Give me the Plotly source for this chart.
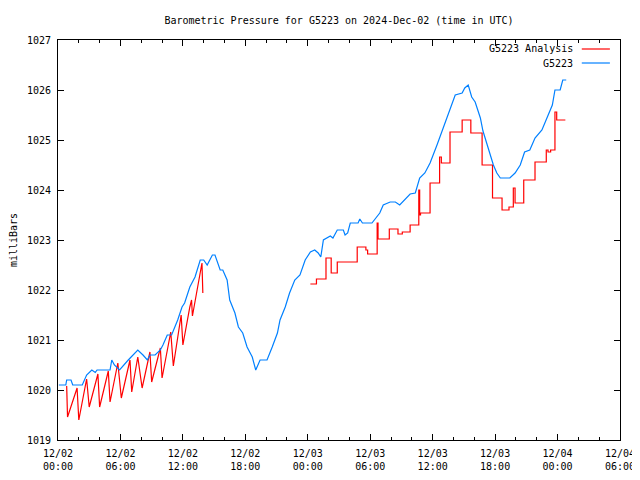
import plotly.graph_objects as go

# ---------------- data ----------------
blue_times = [
    "2024-12-02 00:05", "2024-12-02 00:45", "2024-12-02 00:50", "2024-12-02 01:15", "2024-12-02 01:25",
    "2024-12-02 02:20", "2024-12-02 02:45", "2024-12-02 03:15", "2024-12-02 03:35", "2024-12-02 03:45",
    "2024-12-02 05:00", "2024-12-02 05:10", "2024-12-02 05:25", "2024-12-02 05:55", "2024-12-02 06:45",
    "2024-12-02 07:10", "2024-12-02 07:40", "2024-12-02 08:10", "2024-12-02 08:35", "2024-12-02 08:50",
    "2024-12-02 09:20", "2024-12-02 09:50", "2024-12-02 10:05", "2024-12-02 10:30", "2024-12-02 10:55",
    "2024-12-02 11:30", "2024-12-02 11:55", "2024-12-02 12:10", "2024-12-02 12:40", "2024-12-02 13:10",
    "2024-12-02 13:40", "2024-12-02 14:00", "2024-12-02 14:20", "2024-12-02 14:50", "2024-12-02 15:05",
    "2024-12-02 15:35", "2024-12-02 15:50", "2024-12-02 16:15", "2024-12-02 16:30", "2024-12-02 17:00",
    "2024-12-02 17:20", "2024-12-02 17:45", "2024-12-02 18:10", "2024-12-02 18:40", "2024-12-02 19:00",
    "2024-12-02 19:25", "2024-12-02 20:05", "2024-12-02 20:35", "2024-12-02 21:05", "2024-12-02 21:20",
    "2024-12-02 21:50", "2024-12-02 22:15", "2024-12-02 22:45", "2024-12-02 23:15", "2024-12-02 23:45",
    "2024-12-03 00:15", "2024-12-03 00:40", "2024-12-03 01:00", "2024-12-03 01:15", "2024-12-03 01:30",
    "2024-12-03 02:10", "2024-12-03 02:25", "2024-12-03 02:50", "2024-12-03 03:25", "2024-12-03 03:35",
    "2024-12-03 03:50", "2024-12-03 04:05", "2024-12-03 04:50", "2024-12-03 05:00", "2024-12-03 05:15",
    "2024-12-03 06:10", "2024-12-03 06:55", "2024-12-03 07:15", "2024-12-03 07:55", "2024-12-03 08:25",
    "2024-12-03 08:50", "2024-12-03 09:30", "2024-12-03 09:50", "2024-12-03 10:20", "2024-12-03 10:45",
    "2024-12-03 11:15", "2024-12-03 11:45", "2024-12-03 12:25", "2024-12-03 13:00", "2024-12-03 13:40",
    "2024-12-03 14:10", "2024-12-03 14:50", "2024-12-03 15:05", "2024-12-03 15:25", "2024-12-03 15:45",
    "2024-12-03 16:05", "2024-12-03 16:35", "2024-12-03 16:50", "2024-12-03 17:20", "2024-12-03 17:50",
    "2024-12-03 18:10", "2024-12-03 18:30", "2024-12-03 19:25", "2024-12-03 19:55", "2024-12-03 20:25",
    "2024-12-03 20:50", "2024-12-03 21:20", "2024-12-03 21:50", "2024-12-03 22:30", "2024-12-03 23:00",
    "2024-12-03 23:30", "2024-12-03 23:45", "2024-12-04 00:15", "2024-12-04 00:30", "2024-12-04 00:50",
]
blue_values = [
    1020.1, 1020.1, 1020.2, 1020.2, 1020.1,
    1020.1, 1020.3, 1020.4, 1020.35, 1020.4,
    1020.4, 1020.6, 1020.5, 1020.4, 1020.6,
    1020.7, 1020.8, 1020.7, 1020.6, 1020.7,
    1020.7, 1020.8, 1020.9, 1021.1, 1021.1,
    1021.4, 1021.66, 1021.74, 1022.06, 1022.26,
    1022.6, 1022.6, 1022.5, 1022.7, 1022.7,
    1022.4, 1022.4, 1022.2, 1021.8, 1021.54,
    1021.26, 1021.14, 1020.86, 1020.66, 1020.4,
    1020.6, 1020.6, 1020.86, 1021.14, 1021.4,
    1021.66, 1021.94, 1022.2, 1022.3, 1022.6,
    1022.76, 1022.8, 1022.74, 1022.66, 1023.0,
    1023.08, 1023.04, 1023.2, 1023.2, 1023.1,
    1023.14, 1023.34, 1023.34, 1023.42, 1023.34,
    1023.34, 1023.54, 1023.7, 1023.76, 1023.76,
    1023.7, 1023.84, 1023.92, 1023.94, 1024.24,
    1024.34, 1024.54, 1024.9, 1025.24, 1025.64,
    1025.9, 1025.94, 1026.04, 1026.1, 1025.86,
    1025.76, 1025.44, 1025.18, 1024.84, 1024.5,
    1024.34, 1024.24, 1024.24, 1024.34, 1024.5,
    1024.76, 1024.8, 1025.04, 1025.2, 1025.44,
    1025.7, 1026.0, 1026.0, 1026.2, 1026.2,
]

# Analysis, first day (hourly resets)
red1_times = [
    "2024-12-02 00:50", "2024-12-02 00:55", "2024-12-02 01:50", "2024-12-02 02:00", "2024-12-02 02:45",
    "2024-12-02 03:00", "2024-12-02 03:50", "2024-12-02 04:00", "2024-12-02 04:50", "2024-12-02 05:00",
    "2024-12-02 05:45", "2024-12-02 06:05", "2024-12-02 06:55", "2024-12-02 07:05", "2024-12-02 07:40",
    "2024-12-02 08:05", "2024-12-02 08:50", "2024-12-02 09:00", "2024-12-02 09:50", "2024-12-02 10:00",
    "2024-12-02 10:50", "2024-12-02 11:05", "2024-12-02 11:50", "2024-12-02 12:00", "2024-12-02 12:40",
    "2024-12-02 12:50", "2024-12-02 12:55", "2024-12-02 13:50", "2024-12-02 13:55",
]
red1_values = [
    1020.08, 1019.46, 1020.04, 1019.4, 1020.22,
    1019.66, 1020.32, 1019.66, 1020.38, 1019.76,
    1020.54, 1019.84, 1020.6, 1019.96, 1020.66,
    1020.04, 1020.76, 1020.16, 1020.84, 1020.24,
    1021.16, 1020.48, 1021.5, 1020.9, 1021.66,
    1021.8, 1021.48, 1022.54, 1021.94,
]

# Analysis, second day (step changes)
red2_times = [
    "2024-12-03 00:15", "2024-12-03 00:50", "2024-12-03 01:45", "2024-12-03 02:15", "2024-12-03 02:50",
    "2024-12-03 04:45", "2024-12-03 05:35", "2024-12-03 05:45", "2024-12-03 06:40", "2024-12-03 06:45",
    "2024-12-03 07:50", "2024-12-03 08:40", "2024-12-03 09:05", "2024-12-03 09:50", "2024-12-03 10:40",
    "2024-12-03 10:45", "2024-12-03 10:50", "2024-12-03 11:45", "2024-12-03 12:40", "2024-12-03 12:50",
    "2024-12-03 13:40", "2024-12-03 14:50", "2024-12-03 15:40", "2024-12-03 16:45", "2024-12-03 17:45",
    "2024-12-03 18:40", "2024-12-03 19:20", "2024-12-03 19:45", "2024-12-03 19:55", "2024-12-03 20:45",
    "2024-12-03 21:50", "2024-12-03 22:55", "2024-12-03 23:05", "2024-12-03 23:20", "2024-12-03 23:45",
    "2024-12-03 23:55", "2024-12-04 00:45",
]
red2_values = [
    1022.12, 1022.22, 1022.64, 1022.34, 1022.56,
    1022.86, 1022.8, 1022.72, 1023.34, 1023.02,
    1023.22, 1023.12, 1023.16, 1023.3, 1024.0,
    1023.5, 1023.54, 1024.14, 1024.66, 1024.54,
    1025.16, 1025.4, 1025.14, 1024.5, 1023.84,
    1023.6, 1023.66, 1024.04, 1023.74, 1024.2,
    1024.56, 1024.8, 1024.76, 1024.8, 1025.56,
    1025.4, 1025.4,
]

x_tick_vals = ["2024-12-02 00:00", "2024-12-02 06:00", "2024-12-02 12:00", "2024-12-02 18:00",
               "2024-12-03 00:00", "2024-12-03 06:00", "2024-12-03 12:00", "2024-12-03 18:00",
               "2024-12-04 00:00", "2024-12-04 06:00"]
x_tick_text = ["12/02<br>00:00", "12/02<br>06:00", "12/02<br>12:00", "12/02<br>18:00",
               "12/03<br>00:00", "12/03<br>06:00", "12/03<br>12:00", "12/03<br>18:00",
               "12/04<br>00:00", "12/04<br>06:00"]
y_tick_vals = [1019, 1020, 1021, 1022, 1023, 1024, 1025, 1026, 1027]

RED = "#ff0000"
BLUE = "#0080ff"
FONT = "DejaVu Sans Mono"

# the page body adds an 8 px offset; size the figure so the plot lands where the reference has it
FIG_W, FIG_H = 632, 472

fig = go.Figure()
fig.add_trace(go.Scatter(x=red1_times, y=red1_values, mode="lines",
                         line=dict(color=RED, width=1.2), showlegend=False))
fig.add_trace(go.Scatter(x=red2_times, y=red2_values, mode="lines", line_shape="hv",
                         line=dict(color=RED, width=1.2), showlegend=False))
fig.add_trace(go.Scatter(x=blue_times, y=blue_values, mode="lines",
                         line=dict(color=BLUE, width=1.2), showlegend=False))

# gnuplot-style legend (text then sample line)
legend_items = [("G5223 Analysis", RED, 0.9775), ("G5223", BLUE, 0.9425)]
for name, col, yy in legend_items:
    fig.add_annotation(x=0.92, y=yy, xref="paper", yref="paper", text=name, showarrow=False,
                       xanchor="right", yanchor="middle", font=dict(family=FONT, size=10, color="black"))
    fig.add_shape(type="line", xref="paper", yref="paper", x0=0.932, x1=0.982, y0=yy, y1=yy,
                  line=dict(color=col, width=1.2))

axis_common = dict(showline=True, linecolor="black", linewidth=1, mirror="ticks",
                   ticks="inside", tickcolor="black", showgrid=False, zeroline=False,
                   automargin=False, ticklabelstandoff=4,
                   tickfont=dict(family=FONT, size=10, color="black"))

fig.update_layout(
    width=FIG_W, height=FIG_H,
    margin=dict(l=50, r=20, t=32, b=40, autoexpand=False),
    paper_bgcolor="white", plot_bgcolor="white",
    title=dict(text="Barometric Pressure for G5223 on 2024-Dec-02 (time in UTC)",
               x=0.5, xref="paper", y=1 - 12 / FIG_H, yref="container",
               xanchor="center", yanchor="middle", automargin=False,
               font=dict(family=FONT, size=10, color="black")),
    xaxis=dict(type="date", range=["2024-12-02 00:00", "2024-12-04 06:00"],
               tickvals=x_tick_vals, ticktext=x_tick_text, ticklen=6,
               minor=dict(dtick=2 * 3600 * 1000, tick0="2024-12-02 00:00", ticks="inside",
                          ticklen=3, tickcolor="black"),
               **axis_common),
    yaxis=dict(range=[1019, 1027], tickvals=y_tick_vals, ticklen=6,
               title=dict(text="milliBars", font=dict(family=FONT, size=10, color="black"), standoff=18),
               **axis_common),
)

fig.write_html("out.html")
